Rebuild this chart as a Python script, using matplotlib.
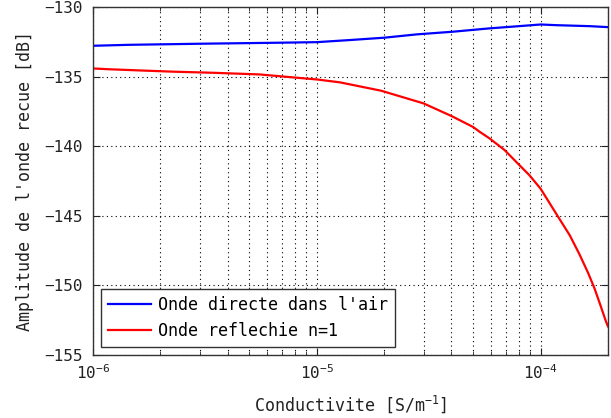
import matplotlib
matplotlib.use("Agg")
import matplotlib.pyplot as plt
from matplotlib.ticker import LogLocator, NullFormatter

plt.rcParams['font.family'] = ['DejaVu Sans Mono']
plt.rcParams['mathtext.fontset'] = 'custom'
plt.rcParams['mathtext.rm'] = 'DejaVu Sans Mono'
plt.rcParams['mathtext.it'] = 'DejaVu Sans Mono'
plt.rcParams['mathtext.bf'] = 'DejaVu Sans Mono'

# Data
sigma_direct = [1e-6, 1.46e-6, 3.1e-6, 6.8e-6, 1e-5, 1.4e-5, 2e-5, 2.8e-5, 4.05e-5,
                5.9e-5, 8e-5, 1e-4, 1.18e-4, 1.66e-4, 2e-4]
amp_direct = [-132.78, -132.71, -132.63, -132.56, -132.52, -132.37, -132.2, -131.96, -131.77,
              -131.53, -131.37, -131.25, -131.3, -131.37, -131.44]

sigma_refl = [1e-6, 1.19e-6, 1.73e-6, 2.27e-6, 3.43e-6, 5.55e-6, 7.8e-6, 1e-5, 1.27e-5,
              1.94e-5, 3e-5, 4e-5, 5e-5, 5.34e-5, 5.92e-5, 6.9e-5, 7.9e-5, 8.9e-5, 1e-4, 1.19e-4,
              1.35e-4, 1.49e-4, 1.63e-4, 1.74e-4, 1.83e-4, 1.96e-4, 2e-4]
amp_refl = [-134.41, -134.47, -134.57, -134.64, -134.72, -134.84, -135.05, -135.2, -135.41,
            -136.01, -136.92, -137.83, -138.62, -138.96, -139.44, -140.27, -141.23, -142.07,
            -143.05, -145.0, -146.4, -147.75, -149.1, -150.2, -151.2, -152.6, -152.95]

labels = ["Onde directe dans l'air", "Onde reflechie n=1"]

fig = plt.figure(figsize=(6.11, 4.18), dpi=100)
ax = fig.add_axes([0.152, 0.151, 0.843, 0.832])

ax.plot(sigma_direct, amp_direct, color='#0000ff', lw=1.6, label=labels[0])
ax.plot(sigma_refl, amp_refl, color='#ff0000', lw=1.6, label=labels[1])

ax.set_xscale('log')
ax.set_xlim(1e-6, 2e-4)
ax.set_ylim(-155, -130)
ax.set_yticks([-155, -150, -145, -140, -135, -130])
ax.xaxis.set_minor_locator(LogLocator(base=10, subs=range(2, 10), numticks=20))
ax.xaxis.set_minor_formatter(NullFormatter())

ax.grid(True, which='major', axis='both', color='black', linestyle=(0, (1, 3)), lw=0.8)
ax.grid(True, which='minor', axis='x', color='black', linestyle=(0, (1, 3)), lw=0.8)

ax.tick_params(which='both', direction='in', top=True, right=True, labelsize=11.5, colors='#222222')
ax.tick_params(which='major', length=5)
ax.tick_params(which='minor', length=3)
ax.tick_params(axis='x', which='major', pad=6)
ax.tick_params(axis='y', which='major', pad=7)
for s in ax.spines.values():
    s.set_color('#333333')
    s.set_linewidth(1.0)

ax.set_xlabel(r'Conductivite [S/m$^{-1}$]', fontsize=12, color='#222222', labelpad=8)
ax.set_ylabel("Amplitude de l'onde recue [dB]", fontsize=12, color='#222222', labelpad=8)

leg = ax.legend(loc='lower left', fontsize=12, frameon=True, fancybox=False,
                edgecolor='#333333', framealpha=1, handlelength=2.6,
                handletextpad=0.4, borderpad=0.4,
                borderaxespad=0.5, labelspacing=0.5)
leg.get_frame().set_linewidth(1.0)

fig.savefig('out.png', dpi=100)
